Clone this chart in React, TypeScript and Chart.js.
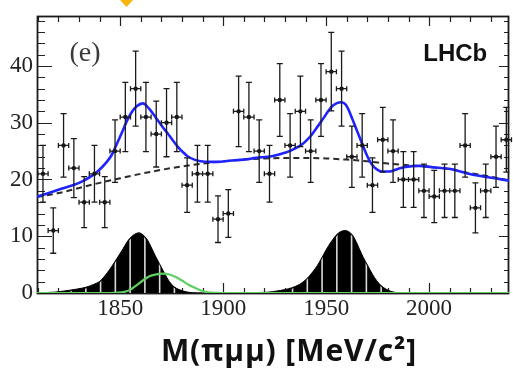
import React, { useEffect, useRef } from "react";
import { Chart, registerables } from "chart.js";
Chart.register(...registerables);

// ---- data ----
const massBins = [1812.5, 1817.5, 1822.5, 1827.5, 1832.5, 1837.5, 1842.5, 1847.5, 1852.5, 1857.5, 1862.5, 1867.5, 1872.5, 1877.5, 1882.5, 1887.5, 1892.5, 1897.5, 1902.5, 1907.5, 1912.5, 1917.5, 1922.5, 1927.5, 1932.5, 1937.5, 1942.5, 1947.5, 1952.5, 1957.5, 1962.5, 1967.5, 1972.5, 1977.5, 1982.5, 1987.5, 1992.5, 1997.5, 2002.5, 2007.5, 2012.5, 2017.5, 2022.5, 2027.5, 2032.5, 2037.5];
const counts = [21, 11, 26, 22, 16, 21, 16, 25, 31, 36, 31, 28, 30, 31, 19, 21, 21, 13, 14, 32, 31, 25, 21, 34, 26, 32, 25, 34, 39, 36, 24, 26, 19, 27, 25, 20, 20, 18, 17, 18, 18, 26, 15, 18, 24, 27];
const countErrors = [5.0, 4.0, 5.6, 5.2, 4.5, 5.0, 4.5, 5.5, 6.1, 6.6, 6.1, 5.8, 6.0, 6.1, 4.8, 5.0, 5.0, 4.1, 4.2, 6.2, 6.1, 5.5, 5.0, 6.4, 5.6, 6.2, 5.5, 6.4, 6.9, 6.6, 5.4, 5.6, 4.8, 5.7, 5.5, 4.9, 4.9, 4.7, 4.6, 4.7, 4.7, 5.6, 4.4, 4.7, 5.4, 5.7];
const binHalfWidth = 2.5;

const fitMass = [1809.6, 1816, 1822.7, 1828, 1832.3, 1836, 1839, 1843.5, 1846, 1848.3, 1851, 1853.1, 1855.5, 1858, 1861, 1864, 1867.5, 1870.5, 1873.1, 1875.5, 1877.9, 1880.5, 1882.7, 1886, 1889.2, 1893, 1897.2, 1903, 1910, 1916, 1923.6, 1928, 1931.6, 1935, 1938, 1940.5, 1942.8, 1945.2, 1947.6, 1950, 1952.4, 1955, 1957.5, 1959.5, 1961, 1962.9, 1965.3, 1967.7, 1970, 1972.5, 1975, 1977.3, 1980, 1982.1, 1985, 1988.5, 1995, 2003, 2011, 2018.2, 2025, 2032, 2038.8];
const fitValue = [17.0, 17.7, 18.5, 19.1, 19.8, 20.6, 21.4, 23.1, 24.4, 26.2, 28.4, 30.2, 31.8, 32.9, 33.4, 32.5, 30.8, 29.3, 28.1, 26.9, 25.8, 24.8, 24.1, 23.5, 23.2, 23.1, 23.1, 23.3, 23.5, 23.8, 24.1, 24.5, 24.9, 25.5, 26.1, 26.9, 27.8, 29.0, 30.2, 31.5, 32.7, 33.4, 33.6, 33.2, 32.2, 30.5, 28.3, 26.1, 24.1, 22.5, 21.7, 21.4, 21.4, 21.5, 21.9, 22.2, 22.4, 22.1, 21.8, 21.1, 20.6, 20.2, 19.8];

const bkgMass = [1809.6, 1820, 1830, 1840, 1850, 1860, 1870, 1880, 1890, 1900, 1910, 1920, 1930, 1940, 1950, 1960, 1970, 1980, 1990, 2000, 2010, 2020, 2030, 2038.8];
const bkgValue = [16.9, 17.6, 18.5, 19.4, 20.2, 21.0, 21.7, 22.3, 22.8, 23.2, 23.5, 23.7, 23.8, 23.8, 23.7, 23.5, 23.2, 22.8, 22.5, 22.2, 21.8, 21.1, 20.5, 19.8];

const peak1Mass = [1810, 1818, 1825.7, 1830, 1833.7, 1837, 1840.1, 1842.5, 1845, 1847.3, 1849.5, 1851.4, 1853, 1854.6, 1856.8, 1859.1, 1861.8, 1863.5, 1865, 1867, 1869, 1871.5, 1873.8, 1876, 1878.6, 1881.5, 1885, 1890];
const peak1Value = [0.05, 0.15, 0.5, 0.75, 1.05, 1.5, 2.05, 3.0, 4.2, 5.45, 6.7, 7.8, 8.8, 9.6, 10.3, 10.6, 10.0, 9.2, 8.1, 6.6, 5.2, 3.5, 2.05, 1.15, 0.6, 0.25, 0.05, 0];

const peak2Mass = [1905, 1912, 1918, 1921.9, 1926, 1930, 1933.1, 1937, 1940.3, 1943, 1945.5, 1947.6, 1950, 1952.4, 1955.6, 1959.1, 1961, 1962.9, 1964.5, 1966.1, 1968, 1970.1, 1972.5, 1974.5, 1976.5, 1979, 1981.4, 1984, 1988];
const peak2Value = [0, 0.05, 0.1, 0.15, 0.35, 0.6, 0.9, 1.5, 2.4, 3.5, 4.7, 6.0, 7.6, 9.0, 10.45, 11.0, 10.8, 10.15, 9.1, 7.8, 6.3, 4.9, 3.3, 2.2, 1.35, 0.7, 0.3, 0.08, 0];

const greenMass = [1809.6, 1845, 1849, 1852, 1855, 1858, 1861, 1864.2, 1867, 1871, 1874, 1877, 1880, 1883.4, 1886, 1889.8, 1893, 1897, 1900, 2038.8];
const greenValue = [0, 0, 0.05, 0.2, 0.6, 1.4, 2.2, 2.95, 3.25, 3.4, 3.25, 2.8, 2.2, 1.4, 0.95, 0.35, 0.1, 0.02, 0, 0];

const xTickLabels = [1850, 1900, 1950, 2000];
const yTickLabels = [0, 10, 20, 30, 40];

const X_MIN = 1809.6;
const X_MAX = 2038.8;
const Y_MIN = 0;
const Y_MAX = 48.8;

const toXY = (xs: number[], ys: number[]) => xs.map((x, i) => ({ x, y: ys[i] }));

const hatchPlugin = {
  id: "hatch",
  afterDatasetDraw(chart: any, args: any) {
    const ds = chart.data.datasets[args.index];
    if (!ds.hatch) return;
    const pts = args.meta.data;
    const { ctx, chartArea } = chart;
    const xs = chart.scales.x;
    const yBase = chart.scales.y.getPixelForValue(0);
    ctx.save();
    ctx.beginPath();
    ctx.moveTo(pts[0].x, yBase);
    pts.forEach((p: any) => ctx.lineTo(p.x, p.y + 1.2));
    ctx.lineTo(pts[pts.length - 1].x, yBase);
    ctx.closePath();
    ctx.clip();
    ctx.strokeStyle = "rgba(255,255,255,0.85)";
    ctx.lineWidth = 1.6;
    for (let m = 1811.8; m < X_MAX; m += 7.17) {
      const px = xs.getPixelForValue(m);
      ctx.beginPath();
      ctx.moveTo(px, yBase);
      ctx.lineTo(px, chartArea.top);
      ctx.stroke();
    }
    ctx.restore();
  },
};

const framePlugin = {
  id: "frame",
  beforeDatasetsDraw(chart: any) {
    const { ctx, chartArea } = chart;
    const { left, right, top, bottom } = chartArea;
    const xs = chart.scales.x;
    const ys = chart.scales.y;
    ctx.save();
    ctx.strokeStyle = "#222";
    ctx.lineWidth = 1.2;
    ctx.beginPath();
    for (let v = 1810; v <= X_MAX; v += 10) {
      const px = Math.round(xs.getPixelForValue(v)) + 0.5;
      const major = v % 50 === 0;
      ctx.moveTo(px, top);
      ctx.lineTo(px, top + (major ? 10 : 6));
      ctx.moveTo(px, bottom);
      ctx.lineTo(px, bottom - (major ? 10 : 5));
    }
    for (let v = 0; v <= Y_MAX; v += 2) {
      const py = Math.round(ys.getPixelForValue(v)) + 0.5;
      const major = v % 10 === 0;
      ctx.moveTo(left, py);
      ctx.lineTo(left + (major ? 15 : 8), py);
      ctx.moveTo(right, py);
      ctx.lineTo(right - (major ? 10 : 5), py);
    }
    ctx.stroke();
    ctx.lineWidth = 1.8;
    ctx.strokeStyle = "#1a1a1a";
    ctx.strokeRect(left + 0.5, top + 0.5, right - left - 1, bottom - top);
    ctx.restore();
  },
};

const errorBarPlugin = {
  id: "errorBars",
  afterDatasetsDraw(chart: any) {
    const { ctx } = chart;
    const xs = chart.scales.x;
    const ys = chart.scales.y;
    ctx.save();
    ctx.strokeStyle = "#1a1a1a";
    ctx.lineWidth = 1.3;
    ctx.beginPath();
    massBins.forEach((m, i) => {
      const px = xs.getPixelForValue(m);
      const py = ys.getPixelForValue(counts[i]);
      const yHi = ys.getPixelForValue(counts[i] + countErrors[i]);
      const yLo = ys.getPixelForValue(counts[i] - countErrors[i]);
      const xL = xs.getPixelForValue(m - binHalfWidth);
      const xR = xs.getPixelForValue(m + binHalfWidth);
      ctx.moveTo(px, yHi);
      ctx.lineTo(px, yLo);
      ctx.moveTo(px - 3, yHi);
      ctx.lineTo(px + 3, yHi);
      ctx.moveTo(px - 3, yLo);
      ctx.lineTo(px + 3, yLo);
      ctx.moveTo(xL, py);
      ctx.lineTo(xR, py);
      ctx.moveTo(xL, py - 2.5);
      ctx.lineTo(xL, py + 2.5);
      ctx.moveTo(xR, py - 2.5);
      ctx.lineTo(xR, py + 2.5);
    });
    ctx.stroke();
    ctx.restore();
  },
};

export default function App() {
  const ref = useRef<HTMLCanvasElement | null>(null);

  useEffect(() => {
    if (!ref.current) return;
    const chart = new Chart(ref.current, {
      type: "scatter",
      data: {
        datasets: [
          {
            label: "data",
            data: toXY(massBins, counts),
            showLine: false,
            pointRadius: 2.2,
            pointBackgroundColor: "#111",
            pointBorderWidth: 0,
            order: 1,
          } as any,
          {
            label: "fit",
            data: toXY(fitMass, fitValue),
            showLine: true,
            borderColor: "#1f24ff",
            borderWidth: 2.6,
            pointRadius: 0,
            cubicInterpolationMode: "monotone",
            order: 2,
          },
          {
            label: "background",
            data: toXY(bkgMass, bkgValue),
            showLine: true,
            borderColor: "#2a2a2a",
            borderWidth: 2,
            borderDash: [6, 4],
            pointRadius: 0,
            cubicInterpolationMode: "monotone",
            order: 3,
          },
          {
            label: "green",
            data: toXY(greenMass, greenValue),
            showLine: true,
            borderColor: "#5fd05f",
            borderWidth: 2.2,
            pointRadius: 0,
            cubicInterpolationMode: "monotone",
            order: 4,
          },
          {
            label: "peak1",
            data: toXY(peak1Mass, peak1Value),
            showLine: true,
            borderColor: "#000",
            borderWidth: 1,
            backgroundColor: "#000",
            fill: "origin",
            pointRadius: 0,
            cubicInterpolationMode: "monotone",
            hatch: true,
            order: 5,
          } as any,
          {
            label: "peak2",
            data: toXY(peak2Mass, peak2Value),
            showLine: true,
            borderColor: "#000",
            borderWidth: 1,
            backgroundColor: "#000",
            fill: "origin",
            pointRadius: 0,
            cubicInterpolationMode: "monotone",
            hatch: true,
            order: 6,
          } as any,
        ],
      },
      options: {
        responsive: false,
        animation: false,
        layout: { padding: { top: 16, right: 0, left: 0, bottom: 0 } },
        plugins: { legend: { display: false }, tooltip: { enabled: false } },
        scales: {
          x: {
            type: "linear",
            min: X_MIN,
            max: X_MAX,
            grid: { display: false, drawTicks: false },
            border: { display: false },
            afterBuildTicks: (s: any) => {
              s.ticks = xTickLabels.map((v) => ({ value: v }));
            },
            ticks: {
              autoSkip: false,
              maxRotation: 0,
              padding: 2,
              color: "#222",
              font: { family: "'Liberation Serif', 'DejaVu Serif', serif", size: 23 },
              callback: (v: any) => String(v),
            },
            afterFit: (s: any) => {
              s.height = 83;
              s.paddingLeft = 0;
              s.paddingRight = 0;
              s.paddingTop = 0;
              s.paddingBottom = 0;
            },
          },
          y: {
            type: "linear",
            min: Y_MIN,
            max: Y_MAX,
            grid: { display: false, drawTicks: false },
            border: { display: false },
            afterBuildTicks: (s: any) => {
              s.ticks = yTickLabels.map((v) => ({ value: v }));
            },
            ticks: {
              padding: 4,
              color: "#222",
              font: { family: "'Liberation Serif', 'DejaVu Serif', serif", size: 23 },
              callback: (v: any) => String(v),
            },
            afterFit: (s: any) => {
              s.width = 37;
              s.paddingLeft = 0;
              s.paddingRight = 0;
              s.paddingTop = 0;
              s.paddingBottom = 0;
            },
          },
        },
      } as any,
      plugins: [framePlugin, hatchPlugin, errorBarPlugin],
    });
    return () => chart.destroy();
  }, []);

  return (
    <div style={{ position: "fixed", left: 0, top: 0, width: 513, height: 376, background: "#fff", overflow: "hidden" }}>
      <canvas ref={ref} width={513} height={376} style={{ position: "absolute", left: 0, top: 0, width: 513, height: 376 }} />
      <div
        style={{
          position: "absolute",
          left: 120,
          top: 0,
          width: 13,
          height: 7,
          background: "#f7b40f",
          clipPath: "polygon(0 0, 100% 0, 50% 100%)",
        }}
      />
      <div
        style={{
          position: "absolute",
          left: 69.5,
          top: 38,
          fontFamily: "'Liberation Serif', serif",
          fontSize: 28,
          lineHeight: "28px",
          color: "#3a3a3a",
          whiteSpace: "nowrap",
        }}
      >
        (e)
      </div>
      <div
        style={{
          position: "absolute",
          left: 423.3,
          top: 41.4,
          fontFamily: "'Liberation Sans', Arial, sans-serif",
          fontWeight: 700,
          fontSize: 24,
          lineHeight: "24px",
          color: "#111",
          whiteSpace: "nowrap",
        }}
      >
        LHCb
      </div>
      <div
        style={{
          position: "absolute",
          left: 289,
          top: 335,
          transform: "translateX(-50%)",
          fontFamily: "'Open Sans', sans-serif",
          fontWeight: 700,
          fontSize: 30,
          letterSpacing: 0.9,
          lineHeight: "30px",
          color: "#111",
          whiteSpace: "nowrap",
        }}
      >
        M(πμμ) [MeV/c²]
      </div>
    </div>
  );
}
